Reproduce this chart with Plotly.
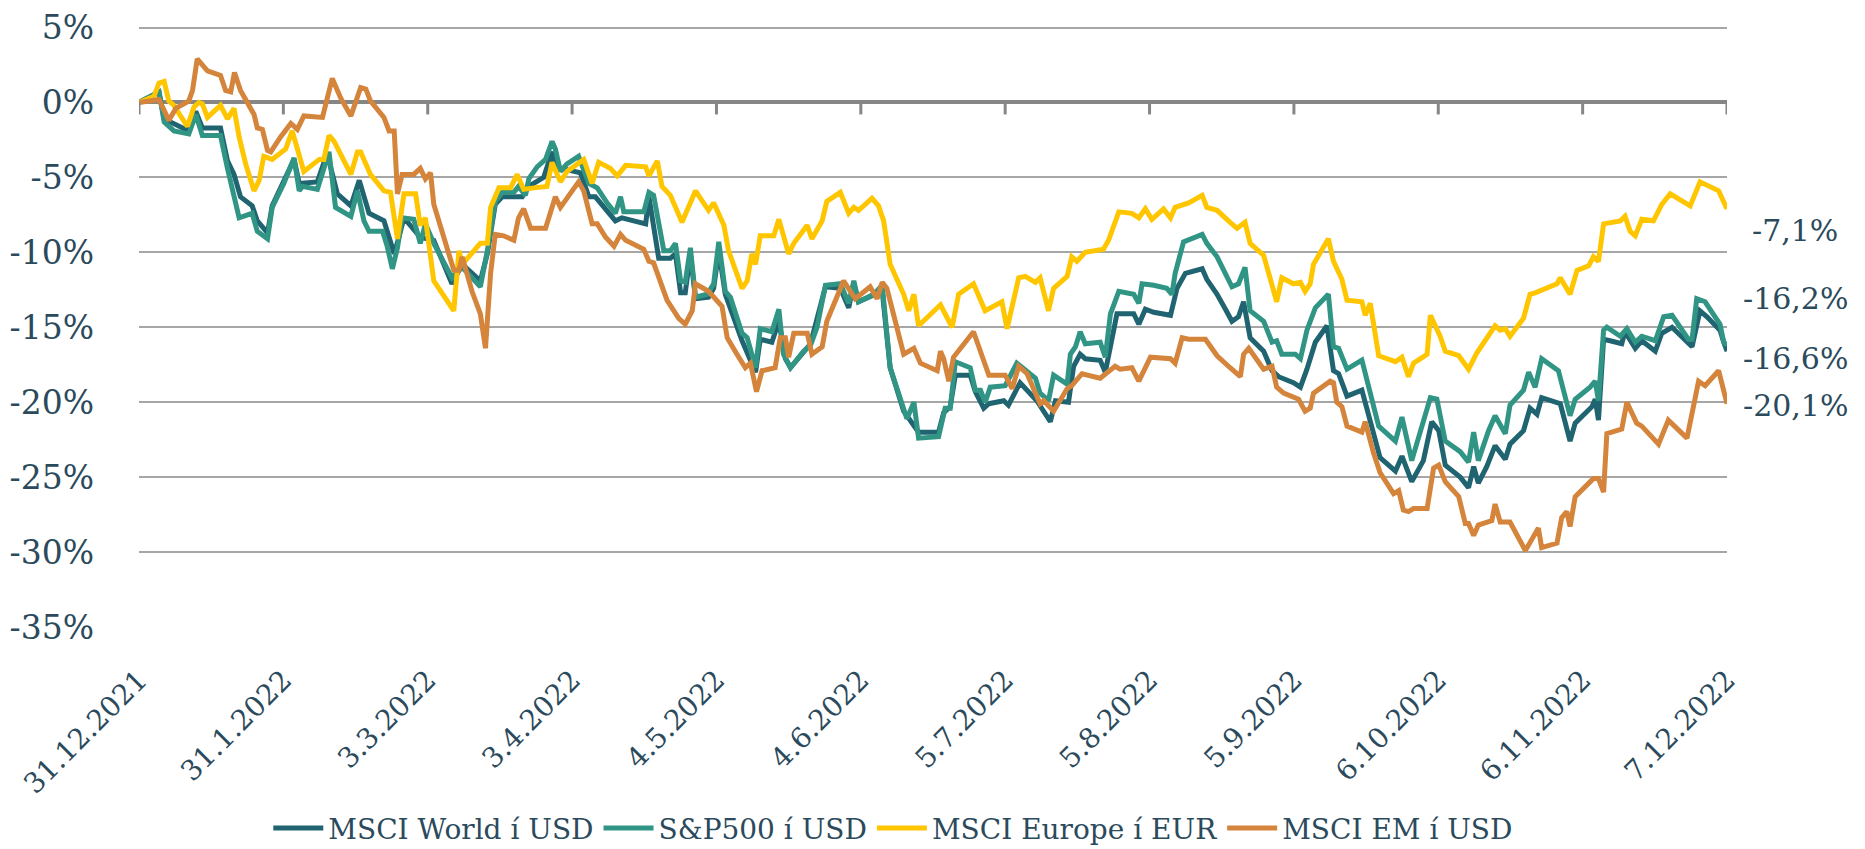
import pandas as pd
import plotly.graph_objects as go

start = pd.Timestamp("2021-12-31")

tick_labels = ["31.12.2021", "31.1.2022", "3.3.2022", "3.4.2022", "4.5.2022", "4.6.2022",
               "5.7.2022", "5.8.2022", "5.9.2022", "6.10.2022", "6.11.2022", "7.12.2022"]
y_ticks = [5, 0, -5, -10, -15, -20, -25, -30, -35]

# days after 31.12.2021, % change since start of year
world_day = [0, 4.3, 5.4, 10.7, 12.2, 13.6, 17.5, 19.0, 20.4, 21.8, 24.3, 25.4, 27.6, 28.6, 33.3, 34.4,
             38.3, 40.4, 42.6, 45.5, 47.3, 49.4, 52.6, 54.8, 55.8, 56.9, 60.4, 63.3, 67.2, 69.4, 73.3,
             74.8, 76.5, 78.0, 80.5, 82.3, 83.7, 86.9, 88.7, 89.4, 94.8, 96.6, 98.0, 102.3, 103.7, 108.8,
             109.5, 111.6, 114.1, 115.2, 116.3, 117.3, 118.4, 119.5, 122.3, 123.4, 124.5, 125.9, 129.5,
             132.4, 133.4, 135.9, 137.4, 138.8, 139.9, 144.2, 147.4, 150.6, 152.4, 153.5, 154.5, 159.6,
             161.3, 164.2, 167.4, 171.7, 172.8, 174.2, 175.3, 178.5, 179.6, 181.4, 182.5, 185.7, 186.7,
             189.2, 192.8, 195.7, 196.8, 199.6, 200.7, 202.1, 203.2, 206.4, 207.5, 210.0, 213.6, 214.7,
             216.1, 217.9, 221.5, 222.9, 224.7, 228.3, 229.3, 231.5, 233.3, 234.7, 236.1, 237.2, 238.6,
             241.5, 243.3, 244.7, 247.9, 249.4, 250.8, 252.6, 255.1, 256.5, 257.6, 259.4, 262.6, 264.4,
             266.5, 269.8, 271.2, 273.3, 275.8, 277.6, 279.1, 280.5, 283.7, 285.5, 286.6, 287.6, 289.4,
             291.2, 293.4, 294.4, 297.3, 298.7, 300.2, 301.2, 305.2, 307.3, 308.4, 312.0, 312.7, 313.4,
             314.5, 315.9, 318.4, 319.1, 321.3, 322.7, 325.6, 327.0, 329.2, 333.5, 335.2, 336.7, 339.5,
             340.3, 341]
world_pct = [0, 0.7, -1.1, -1.9, -0.6, -1.7, -1.7, -3.9, -4.8, -6.3, -6.9, -7.9, -8.7, -6.9, -3.8, -5.4,
             -5.3, -3.4, -6.1, -6.9, -5.2, -7.4, -7.9, -10.1, -9.0, -7.7, -9.0, -9.2, -12.1, -10.8, -11.9,
             -10.1, -6.8, -6.3, -6.3, -6.3, -5.6, -5.0, -3.3, -4.3, -4.7, -6.3, -6.3, -7.9, -7.7, -8.1,
             -6.3, -10.4, -10.4, -10.1, -12.7, -12.7, -10.1, -13.1, -13.0, -12.4, -9.9, -12.8, -15.9,
             -18.0, -15.8, -16.0, -14.6, -17.1, -17.7, -16.1, -12.3, -12.4, -13.7, -12.1, -13.3, -12.6,
             -17.7, -20.6, -22.0, -22.0, -20.7, -20.3, -18.2, -18.2, -19.3, -20.4, -20.1, -19.9, -20.2,
             -18.7, -19.9, -21.3, -19.9, -20.0, -17.6, -16.8, -17.1, -17.2, -18.0, -14.1, -14.1, -14.8,
             -13.8, -14.0, -14.2, -12.4, -11.4, -11.1, -11.8, -12.8, -13.8, -14.6, -14.3, -13.3, -15.7,
             -16.6, -17.9, -18.3, -18.7, -19.0, -17.8, -16.0, -14.9, -17.9, -18.1, -19.6, -19.2, -21.2,
             -23.7, -24.6, -23.6, -25.3, -23.9, -21.3, -21.9, -24.2, -25.0, -25.7, -24.3, -25.4, -24.3,
             -22.9, -23.8, -22.8, -21.9, -20.4, -20.8, -19.7, -20.1, -22.6, -21.4, -20.3, -19.8, -21.2,
             -15.8, -15.9, -16.1, -15.3, -16.4, -15.9, -16.6, -15.4, -15.0, -16.3, -13.9, -14.3, -15.2,
             -16.0, -16.6]

sp_day = [0, 4.3, 5.4, 7.5, 10.7, 12.2, 13.6, 17.5, 19.0, 20.0, 21.5, 24.3, 25.4, 27.6, 28.6, 31.1, 33.3,
          34.4, 35.1, 38.3, 40.8, 42.2, 45.5, 46.9, 48.3, 49.4, 52.3, 53.3, 54.4, 55.5, 56.5, 59.0, 60.4,
          61.5, 63.3, 67.2, 69.4, 73.3, 74.8, 76.5, 78.0, 80.5, 81.5, 83.0, 83.7, 85.5, 87.3, 88.7, 89.4,
          90.5, 91.9, 94.4, 96.6, 98.4, 100.5, 102.3, 103.4, 104.1, 108.4, 109.5, 110.5, 112.7, 114.1,
          115.2, 116.3, 117.3, 118.4, 119.5, 122.0, 123.4, 124.5, 125.9, 127.0, 129.5, 130.6, 132.4,
          133.4, 135.9, 137.4, 138.4, 139.9, 142.7, 144.2, 145.6, 147.4, 150.6, 152.4, 153.5, 154.5,
          157.8, 159.6, 161.3, 163.5, 164.9, 166.4, 167.4, 171.7, 173.1, 174.2, 175.3, 178.5, 179.6,
          180.7, 181.7, 182.8, 186.0, 188.5, 192.5, 193.5, 195.3, 196.4, 199.3, 200.0, 201.1, 202.1,
          203.2, 206.4, 207.5, 208.6, 210.4, 213.6, 214.7, 215.4, 217.9, 220.7, 221.8, 222.5, 224.3,
          228.3, 229.3, 231.5, 233.3, 234.7, 236.1, 237.5, 238.6, 241.5, 243.3, 244.3, 245.4, 248.3,
          249.4, 250.8, 252.6, 255.4, 256.5, 257.6, 259.4, 262.6, 264.4, 266.2, 269.8, 271.2, 273.3,
          277.3, 278.7, 280.5, 283.7, 285.5, 286.6, 287.6, 289.8, 291.2, 293.4, 294.4, 297.3, 298.4,
          299.8, 301.2, 304.8, 305.9, 307.3, 308.4, 311.6, 312.7, 313.4, 314.5, 315.2, 318.1, 319.5,
          321.3, 322.7, 325.6, 327.4, 329.2, 332.7, 333.5, 334.5, 336.3, 339.5, 340.3, 341]
sp_pct = [0, 0.7, -1.3, -1.9, -2.1, -0.8, -2.2, -2.2, -4.4, -5.7, -7.7, -7.4, -8.6, -9.1, -7.0, -5.4, -3.7,
          -5.9, -5.6, -5.8, -3.3, -7.0, -7.6, -5.9, -7.9, -8.6, -8.6, -9.6, -11.1, -9.7, -7.7, -7.8, -9.4,
          -8.1, -9.4, -11.7, -11.0, -12.3, -9.9, -6.6, -6.0, -6.0, -5.6, -6.2, -5.1, -4.3, -3.8, -2.6, -3.1,
          -4.6, -4.1, -3.6, -5.4, -5.7, -6.7, -7.4, -6.3, -7.3, -7.3, -6.0, -6.2, -9.9, -9.9,
          -9.4, -11.9, -12.0, -9.7, -13.0, -12.8, -12.1, -9.3, -12.6, -13.0, -15.4, -15.7, -17.7,
          -15.1, -15.3, -13.8, -16.8, -17.7, -16.6, -16.2, -15.0, -12.2, -12.1, -13.4, -11.9, -13.3,
          -12.8, -12.2, -17.7, -19.9, -21.1, -20.0, -22.4, -22.3, -20.4, -20.4, -17.3, -17.7, -19.2,
          -19.2, -20.0, -19.0, -18.9, -17.4, -18.4, -19.4, -19.9, -18.2, -18.8, -16.8, -16.3, -15.3,
          -16.1, -16.0, -17.0, -14.1, -12.6, -12.8, -13.4, -12.1, -12.2, -12.4, -12.8, -11.4, -9.3,
          -8.8, -9.4, -10.3, -11.4, -12.3, -12.1, -11.0, -13.9, -14.6, -16.0, -15.9, -16.8, -16.8,
          -17.1, -15.2, -13.7, -12.8, -16.3, -16.4, -17.8, -17.2, -19.4, -21.6, -22.6, -21.0, -23.9,
          -19.7, -19.8, -22.6, -23.3, -24.0, -22.0, -23.9, -21.9, -20.9, -22.1, -20.2, -19.2, -18.0,
          -19.0, -17.1, -17.9, -19.1, -20.9, -19.8, -19.0, -18.6, -19.9, -15.2, -15.0, -15.6, -15.1,
          -16.0, -15.6, -15.9, -14.3, -14.2, -15.8, -15.8, -13.1, -13.3, -14.8, -16.0, -16.2]

eu_day = [0, 3.2, 4.3, 5.4, 6.4, 7.5, 8.9, 10.4, 11.8, 12.9, 13.6, 14.7, 17.5, 19.0, 20.4, 21.5, 22.9, 24.7,
          25.8, 26.8, 28.6, 31.5, 32.9, 35.4, 38.7, 39.7, 40.8, 41.9, 45.5, 46.9, 47.6, 49.7, 52.6, 54.0,
          55.5, 56.9, 59.4, 60.4, 61.5, 63.3, 67.6, 68.7, 69.4, 73.3, 74.8, 75.5, 77.3, 79.8, 81.2, 82.6,
          84.8, 87.6, 88.7, 90.5, 91.9, 95.5, 97.3, 98.7, 101.2, 102.7, 104.5, 108.8, 109.5, 111.3, 112.3,
          114.1, 116.6, 119.5, 122.3, 123.4, 125.6, 126.6, 129.5, 130.6, 131.6, 132.4, 133.4, 136.3,
          137.4, 139.5, 140.6, 143.5, 144.5, 146.7, 147.7, 150.6, 152.4, 153.5, 154.5, 157.4, 158.8,
          159.9, 161.3, 164.2, 165.3, 166.4, 167.4, 172.1, 174.6, 176.0, 179.2, 181.7, 185.3, 186.4,
          188.9, 190.3, 192.5, 193.5, 195.3, 196.4, 199.3, 200.3, 201.4, 203.2, 207.1, 208.2, 210.4,
          213.2, 214.7, 216.1, 217.5, 220.0, 221.5, 222.5, 225.4, 228.3, 229.3, 231.5, 234.3, 235.8,
          237.5, 238.6, 241.5, 242.9, 244.3, 245.4, 247.9, 249.4, 250.4, 251.5, 252.2, 255.4, 256.5,
          258.3, 259.4, 262.6, 263.3, 264.4, 266.2, 269.8, 271.2, 272.6, 273.7, 276.6, 277.3, 279.4,
          280.5, 283.4, 285.5, 287.3, 289.4, 291.2, 292.3, 293.4, 294.4, 297.3, 298.7, 299.8, 304.5,
          305.2, 307.3, 308.8, 311.3, 312.3, 313.4, 314.5, 318.1, 319.1, 320.2, 321.3, 322.7, 325.2,
          327.0, 328.8, 333.1, 335.2, 339.2, 341]
eu_pct = [0, 0.4, 1.3, 1.4, 0.1, -0.2, -0.9, -1.6, -0.3, 0.0, -0.1, -1.0, -0.2, -1.1, -0.4, -2.3, -4.1, -5.9,
          -5.2, -3.6, -3.8, -3.1, -1.9, -4.6, -3.8, -3.8, -2.2, -2.6, -4.8, -3.3, -3.3, -4.8, -5.9, -6.0,
          -9.1, -6.1, -6.1, -8.2, -7.7, -11.9, -13.9, -9.9, -10.8, -9.4, -9.4, -7.0, -5.7, -5.7, -4.8, -5.8,
          -5.7, -5.6, -4.0, -5.3, -4.6, -3.8, -5.4, -4.0, -4.4, -4.9, -4.2, -4.3, -4.9, -3.9, -5.6,
          -6.2, -8.0, -5.9, -7.2, -6.7, -8.2, -9.9, -12.4, -11.9, -10.1, -10.8, -8.9, -8.9,
          -7.8, -10.1, -9.4, -8.2, -9.1, -7.9, -6.6, -6.0, -7.4, -7.0, -7.2, -6.4, -6.9,
          -7.9, -10.8, -12.8, -13.9, -12.8, -14.9, -13.5, -15.0, -12.8, -12.1, -13.9, -13.3, -15.1,
          -11.7, -11.6, -12.0, -11.7, -13.9, -12.4, -11.6, -10.3, -10.6, -10.0, -9.8, -9.2, -7.3,
          -7.4, -7.7, -7.1, -7.8, -7.1, -7.7, -7.0, -6.7, -6.2, -7.0, -7.2, -8.0, -8.4,
          -8.0, -9.4, -10.2, -11.7, -13.3, -11.7, -12.1, -12.0, -12.6, -12.1, -10.8, -9.1, -10.6,
          -11.8, -13.2, -13.3, -14.2, -13.4, -16.9, -17.3, -17.0, -18.3, -17.4, -16.8, -14.2, -15.6,
          -16.6, -16.9, -17.8, -16.7, -15.8, -14.9, -15.2, -15.1, -15.6, -14.4, -12.8, -12.7, -12.1,
          -11.7, -12.8, -11.2, -10.9, -10.3, -10.6, -8.1, -7.9, -7.6, -8.6, -8.9, -7.8, -7.9,
          -6.8, -6.1, -6.9, -5.3, -5.9, -7.1]

em_day = [0, 4.3, 6.4, 7.9, 10.7, 11.5, 12.5, 14.7, 17.5, 18.6, 19.7, 20.5, 21.8, 23.6, 24.7, 25.4, 26.5,
          27.6, 28.3, 30.4, 32.6, 34.0, 35.4, 39.4, 40.4, 41.5, 43.3, 45.5, 47.6, 48.7, 49.7, 52.6, 53.7,
          54.8, 55.5, 56.5, 59.0, 60.4, 61.5, 62.6, 63.3, 65.4, 67.6, 68.7, 69.4, 71.5, 73.3, 74.4, 75.5,
          76.5, 78.3, 80.5, 81.5, 82.6, 84.1, 87.3, 89.4, 90.5, 94.4, 95.5, 97.3, 98.4, 100.2, 102.0,
          103.4, 104.5, 108.4, 109.5, 110.5, 113.4, 115.9, 117.3, 118.8, 119.5, 122.3, 125.2, 126.3,
          128.4, 130.2, 131.3, 132.6, 133.8, 136.6, 137.7, 138.8, 139.5, 140.6, 143.5, 144.5, 146.7,
          147.7, 151.3, 153.8, 157.0, 158.5, 159.6, 160.6, 164.2, 166.4, 167.8, 171.4, 172.1, 172.8,
          173.9, 174.9, 179.2, 182.5, 186.0, 187.5, 188.9, 190.7, 193.5, 194.3, 196.4, 199.3, 200.3,
          202.5, 206.4, 207.5, 209.6, 210.7, 213.2, 214.7, 217.2, 221.5, 222.5, 224.0, 225.4, 229.0,
          231.5, 234.3, 236.5, 237.2, 238.3, 241.5, 243.3, 244.3, 245.8, 249.0, 250.4, 251.5, 252.2,
          255.8, 256.5, 257.2, 258.3, 259.4, 262.6, 263.3, 265.1, 266.5, 269.4, 270.5, 271.5, 272.6,
          273.7, 276.6, 278.0, 279.1, 280.5, 283.4, 284.8, 285.5, 286.6, 287.6, 290.5, 291.2, 292.3,
          294.4, 297.7, 300.5, 301.2, 304.5, 305.5, 306.6, 307.3, 308.4, 312.3, 313.4, 314.5, 315.2,
          318.4, 319.5, 321.6, 322.7, 326.3, 328.4, 332.4, 334.9, 336.3, 339.2, 341]
em_pct = [0, 0.2, -1.2, -0.4, 0.1, 0.8, 2.9, 2.1, 1.8, 0.8, 0.7, 2.0, 0.8, -0.1, -0.8, -1.7, -1.8,
          -3.2, -3.3, -2.3, -1.4, -1.8, -0.9, -1.0, 0.3, 1.6, 0.3, -0.9, 1.0, 0.9, 0.1, -1.0, -1.9,
          -1.9, -6.1, -4.8, -4.8, -4.4, -5.1, -4.7, -6.8, -9.0, -11.2, -11.2, -10.3, -12.6, -14.1, -16.4, -11.4,
          -8.8, -8.9, -9.2, -7.7, -7.1, -8.4, -8.4, -6.3, -7.0, -5.3, -5.9, -8.1, -8.1, -9.0, -9.6,
          -8.8, -9.2, -9.8, -10.6, -10.7, -13.2, -14.4, -14.8, -13.9, -12.1, -12.6, -13.6, -15.7,
          -16.8, -17.7, -17.4, -19.3, -17.9, -17.7, -15.7, -15.7, -17.0, -15.4, -15.4, -16.8, -16.3,
          -14.6, -11.9, -13.1, -12.3, -13.1, -12.0, -12.4, -16.8, -16.4, -17.4, -17.9, -16.6, -17.1,
          -18.6, -17.0, -15.3, -18.2, -18.2, -19.1, -17.6, -18.1, -20.1, -19.9, -20.6, -19.1, -18.9,
          -18.1, -18.4, -18.1, -17.6, -17.8, -17.7, -18.6, -17.0, -17.1, -17.4, -15.7, -15.8, -15.8,
          -16.9, -17.7, -18.3, -16.8, -16.4, -17.8, -17.6, -19.0, -19.4, -19.8, -20.6, -20.4, -19.4,
          -18.6, -18.7, -20.0, -20.3, -21.6, -22.0, -21.3, -23.4, -24.7, -26.1, -25.9, -27.2, -27.3,
          -27.1, -27.1, -24.4, -24.2, -25.3, -26.3, -28.1, -28.1, -28.9, -28.2, -27.9, -26.8, -28.0,
          -28.0, -29.9, -28.4, -29.7, -29.4, -27.7, -27.3, -28.3, -26.3, -25.1, -25.1, -26.0, -22.1,
          -21.8, -20.0, -21.4, -21.6, -22.8, -21.2, -22.4, -18.6, -18.9, -17.9, -20.1]

series = [
    ("MSCI World í USD", world_day, world_pct, "#1f6470", 7),
    ("S&P500 í USD", sp_day, sp_pct, "#319585", -47),
    ("MSCI Europe í EUR", eu_day, eu_pct, "#ffc600", 22),
    ("MSCI EM í USD", em_day, em_pct, "#d4843b", 2),
]

text_color = "#2b4a5c"
font_family = "DejaVu Serif"

fig = go.Figure()

for name, days, pct, color, label_shift in series:
    dates = start + pd.to_timedelta(days, unit="D")
    fig.add_trace(go.Scatter(
        x=dates, y=pct, name=name, mode="lines",
        line=dict(color=color, width=5),
    ))
    # end value label right of the plot
    fig.add_annotation(
        x=1.043, xref="paper", y=pct[-1], yref="y", yshift=-label_shift,
        text=f"{pct[-1]:.1f}%".replace(".", ","), showarrow=False,
        xanchor="center", yanchor="middle",
        font=dict(size=30, color=text_color, family=font_family),
    )

tick_dates = pd.to_datetime(tick_labels, format="%d.%m.%Y")

# tick marks hanging from the 0% line
for d in tick_dates:
    fig.add_shape(type="line", xref="x", yref="y", x0=d, x1=d,
                  ysizemode="pixel", yanchor=0, y0=0, y1=-12,
                  line=dict(color="#868686", width=3))

# page body adds 8px, so the figure is 8px smaller than the window
fig.update_layout(
    width=1857, height=841,
    margin=dict(l=131, r=138, t=18, b=222, autoexpand=False),
    plot_bgcolor="white", paper_bgcolor="white",
    font=dict(family=font_family, color=text_color),
    showlegend=True,
    legend=dict(
        orientation="h", x=0.475, xanchor="center", y=-0.335, yanchor="middle",
        font=dict(size=28, color=text_color, family=font_family),
        itemwidth=50, tracegroupgap=0,
    ),
)

fig.update_xaxes(
    range=[tick_dates[0], tick_dates[-1]],
    tickvals=tick_dates, ticktext=tick_labels, tickangle=-45,
    tickfont=dict(size=28, color=text_color, family=font_family),
    showgrid=False, zeroline=False, showline=False, ticks="",
    ticklabelstandoff=30, automargin=False,
)

# a little headroom above 5% so its gridline is not dropped at the edge
fig.update_yaxes(
    range=[-35, 5.1],
    tickvals=y_ticks, ticktext=[f"{v}%" for v in y_ticks],
    tickfont=dict(size=33, color=text_color, family=font_family),
    showgrid=True, gridcolor="#a6a6a6", gridwidth=2,
    zeroline=True, zerolinecolor="#868686", zerolinewidth=4,
    showline=False, ticks="", ticklabelstandoff=44, automargin=False,
    ticklabeloverflow="allow",
)

fig.write_html("out.html")
